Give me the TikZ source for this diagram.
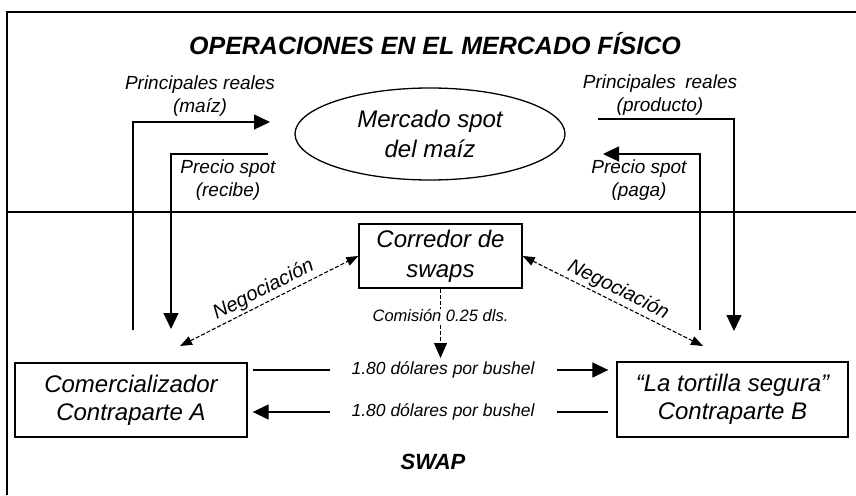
\documentclass[tikz,border=0pt]{standalone}
\usepackage{fontspec}
\setmainfont{Liberation Sans}
\usetikzlibrary{arrows.meta,shapes.geometric}

\begin{document}
\begin{tikzpicture}[x=1pt,y=-1pt,
    frame/.style={line width=1.4pt},
    box/.style={rectangle,draw,line width=1.3pt,align=center,inner sep=0pt,
      font=\fontsize{24}{28}\selectfont\itshape},
    lab/.style={align=center,inner sep=1pt,font=\fontsize{19}{23}\selectfont\itshape},
    head/.style={font=\fontsize{25}{28}\selectfont\bfseries\itshape},
    flow/.style={line width=1.2pt,-{Triangle[length=16pt,width=15pt]}},
    nego/.style={line width=1.1pt,dash pattern=on 4pt off 2pt,
      {Triangle[length=12pt,width=9pt]}-{Triangle[length=12pt,width=9pt]}},
    gaplab/.style={fill=white,inner xsep=22pt,inner ysep=1pt,
      font=\fontsize{17.5}{20}\selectfont\itshape}]
  \useasboundingbox (0,0) rectangle (856,495);
  % marco y division entre mercado fisico y swap
  \draw[frame] (7,495) -- (7,12) -- (856,12);
  \draw[frame] (7,212) -- (856,212);
  % mercado fisico
  \node[head] (titulo) at (435,44) {OPERACIONES EN EL MERCADO FÍSICO};
  \node[ellipse,draw,line width=1.3pt,minimum width=270pt,minimum height=92pt,
    align=center,font=\fontsize{24}{30}\selectfont\itshape] (spot) at (430,134)
    {Mercado spot\\del maíz};
  \node[lab] (prA) at (200,96) {Principales reales\\(maíz)};
  \node[lab] (psA) at (228,180) {Precio spot\\(recibe)};
  \node[lab] (prB) at (660,95) {Principales\hspace{0.5em}reales\\(producto)};
  \node[lab] (psB) at (639,180) {Precio spot\\(paga)};
  % contrapartes y corredor
  \node[box,minimum width=163pt,minimum height=64pt,font=\fontsize{24}{30}\selectfont\itshape]
    (corredor) at (440.5,256) {Corredor de\\swaps};
  \node[box,minimum width=232pt,minimum height=74pt] (comA) at (131,400)
    {Comercializador\\Contraparte A};
  \node[box,minimum width=231pt,minimum height=75pt] (comB) at (732.5,399.5)
    {``La tortilla segura''\\Contraparte B};
  \node[head,font=\fontsize{22}{26}\selectfont\bfseries\itshape] (swap) at (433,462) {SWAP};
  % extremos libres de los flujos fisicos
  \coordinate (pA0) at (133,330);
  \coordinate (pA1) at (270,122);
  \coordinate (sA0) at (268,154);
  \coordinate (sA1) at (171,329);
  \coordinate (pB0) at (598,119);
  \coordinate (pB1) at (734,331);
  \coordinate (sB0) at (700,330);
  \coordinate (sB1) at (603,154);
  \draw[flow] (pA0) |- (pA1);
  \draw[flow] (sA0) -| (sA1);
  \draw[flow] (pB0) -| (pB1);
  \draw[flow] (sB0) |- (sB1);
  % negociacion con el corredor
  \coordinate (negA) at (180,346);
  \coordinate (negB) at (703,346);
  \draw[nego] (negA) -- node[sloped,above=-1pt,font=\fontsize{20}{24}\selectfont\itshape]
    {Negociación} (corredor.west);
  \draw[nego] (corredor.east) -- node[sloped,above=-1pt,font=\fontsize{20}{24}\selectfont\itshape]
    {Negociación} (negB);
  \coordinate (com) at (440.5,358);
  \draw[line width=1.1pt,dash pattern=on 4pt off 2pt,-{Triangle[length=15pt,width=13pt]}]
    (corredor.south) -- node[pos=0.39,fill=white,inner sep=1pt,
    font=\fontsize{16.5}{20}\selectfont\itshape] {Comisión 0.25 dls.} (com);
  % pagos del swap
  \coordinate (rowT) at (441,370);
  \coordinate (rowB) at (441,412);
  \draw[flow,shorten <=5pt,shorten >=8pt] (comA.east |- rowT) --
    node[gaplab,pos=0.53] {1.80 dólares por bushel} (comB.west |- rowT);
  \draw[flow,shorten <=8pt,shorten >=5pt] (comB.west |- rowB) --
    node[gaplab,pos=0.47] {1.80 dólares por bushel} (comA.east |- rowB);
\end{tikzpicture}
\end{document}
